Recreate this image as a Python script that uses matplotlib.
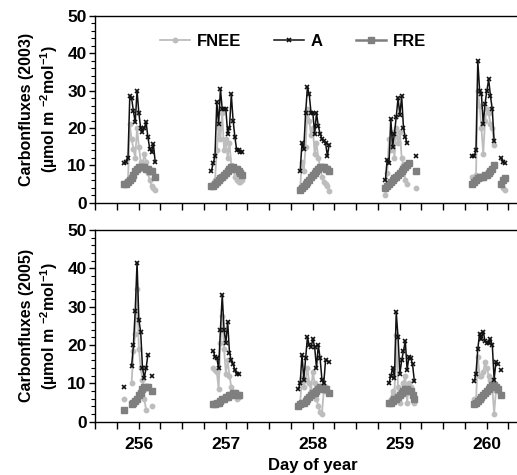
import numpy as np
import matplotlib
matplotlib.use("Agg")
import matplotlib.pyplot as plt
from matplotlib.ticker import MultipleLocator

plt.rcParams['font.family'] = ['Liberation Sans', 'DejaVu Sans']
plt.rcParams['font.weight'] = 'bold'
plt.rcParams['mathtext.fontset'] = 'custom'
plt.rcParams['mathtext.rm'] = 'Liberation Sans:bold'
plt.rcParams['mathtext.default'] = 'rm'

days = [256, 257, 258, 259, 260]
# half-hourly observation slots (local hour)
hours = [8.5 + 0.5 * i for i in range(20)]
N = None

# ---- 2003 ----
a_2003 = [
    [10.5, 11, 12, 28.5, 28, 24.5, 21.5, 30, 24, 20, 19, 20, 21.5, 17.5, 14.5, 13.5, 15.8, 11],
    [8.5, 10.5, 12.5, 27, 21, 30.5, 25, 25, 25, 18.5, 20, 29, 22, 17.5, 14, 14, 13.5, 13.5],
    [N, 8.5, 16, 14.5, 24, 31, 29, 24, 24, 18.5, 24, 20.5, 18.5, 17, 16.5, 16, 12.5, 15.5],
    [6, 11.5, 10.5, 22.5, 15, 18.5, 23, 28, 23.5, 28.5, 20, 17.5, 16, N, N, N, N, 12.5],
    [12.5, 12.5, 14, 38, 30, 29, 21, 26.5, 30, 33, 28.5, 25, 16.5, N, N, N, 12, 11, 10.5],
]
fnee_2003 = [
    [5, 5.5, 6, 21, 17, 14.5, 12, 20, 15, 11, 10, 13, 11, 8, 6, 4.5, 4, 3.5],
    [4.5, 5, 6, 14, 20, 17, 24, 14, 17, 12, 16, 10, 9, 7, 6, 5.5, 5.5, 6],
    [N, 4, 11, 8.5, 15, 25, 22, 18, 20, 13, 16, 12, 9.5, 7, 5.5, 5, 4.5, 3],
    [2, 8, 17, 14, 19, 12, 20, 16, 19, 12, 10, 6, 5, N, N, N, N, 4],
    [7, 7, 7.5, 30, 26, 20, 13, 22, 25, 24, 21, 20, 15.5, N, N, N, 5, 4, 3.5],
]
fre_2003 = [
    [5, 5, 5.5, 6, 6.5, 7.5, 8.5, 9, 9.5, 9.5, 9.5, 9.5, 9, 9, 8.5, 8.5, N, 7],
    [4.5, 4.5, 5, 5.5, 6, 6.5, 7, 7.5, 8, 8.5, 9, 9.5, 9.5, 9, 9, 8.5, 8, 7.5],
    [N, 3.5, 4, 4.5, 5, 5.5, 6, 7, 7.5, 8, 8.5, 9, 9.5, 9.5, 9.5, 9, 9, 8.5],
    [4, 4.5, 5, 5.5, 6, 6.5, 7, 7.5, 8, 8.5, 9, 9.5, 10, 10.5, N, N, N, 8.5],
    [5, 5.5, 6, 6.5, 7, 7, 7, 7.5, 7.5, 8, 8.5, 9, 10, N, N, N, 5, 6, 6.5],
]

# ---- 2005 ----
a_2005 = [
    [9, N, N, N, 14.5, 20, 29, 41.5, 26.5, 23.5, 14, 11.5, 14, 17.5, N, 12],
    [N, 18.5, 17, 16.5, 14, 24, 33, 24, 20.5, 26, 18, 16, 15, 13.5, 12.5, 12.5],
    [8.5, 10, 17.5, 11, 16.5, 22, 20, 19.5, 21.5, 19.5, 14, 20, 16.5, 11, 10, 16, N, 15.5],
    [N, N, 10, 12, 14, 11.5, 28.5, 22, 12.5, 16, 18.5, 21, 13.5, 17, 16.5, 15, 10.5],
    [N, 10.5, 12.5, 19, 23, 21.5, 23.5, 21, 20.5, 20.5, 21.5, 20, 11, 15.5, 15, N, 13.5],
]
fnee_2005 = [
    [6, N, N, N, 10, 18.5, 23, 34.5, 19, 14, 11, 6, 3, N, N, 4],
    [N, 14, 13.5, 13, 8.5, 20.5, 27.5, 19, 12.5, 16, 12, 9, 7.5, 7, 6, 6.5],
    [4, 5, 11.5, 9, 11, 14, 10, 8, 13, 10, 6, 4, 2.5, 2, 8, 9, N, 7.5],
    [N, N, 5, 6, 8, 7, 22.5, 9, 5, 8, 10, 12, 5, 10, 9, 7, 5],
    [N, 6, 5, 17, 12, 12, 13, 15.5, 14, 12, 11, 9, 2, 8, 8.5],
]
fre_2005 = [
    [3, N, N, N, 4.5, 5, 5.5, 6, 7, 7.5, 8.5, 9, 9, 9, N, 8],
    [N, 4.5, 4.5, 5, 5, 5.5, 6, 6, 6.5, 6.5, 7, 7, 7.5, 7.5, 7, 7],
    [4, 4.5, 5, 5, 5.5, 6, 6.5, 7, 7.5, 7.5, 8, 8.5, 9, 9, 8.5, 8.5, N, 7.5],
    [N, N, 5, 5, 5.5, 6, 6, 6.5, 7, 7.5, 8, 8.5, 8.5, 8, 8, 7, 6],
    [N, 4.5, 5, 5.5, 6, 6.5, 7, 7.5, 8, 8.5, 9, 9.5, 9.5, 9, 8.5, N, 7],
]

W, H = 517, 475
fig = plt.figure(figsize=(W / 100, H / 100), dpi=100)

left = 95 / W
width = 435 / W
ax1 = fig.add_axes([left, 1 - 202.7 / H, width, 186.7 / H])
ax2 = fig.add_axes([left, 1 - 421.7 / H, width, 191.7 / H])

c_fnee = '#bdbdbd'
c_a = '#111111'
c_fre = '#7f7f7f'


def series(day, vals):
    x = []
    y = []
    for h, v in zip(hours, vals):
        x.append(day + (h - 12.4) / 24.0)
        y.append(np.nan if v is None else v)
    return np.array(x), np.array(y)


def draw(ax, fnee, a, fre):
    for i, d in enumerate(days):
        x, y = series(d, fnee[i])
        ax.plot(x, y, color=c_fnee, lw=1.3, marker='o', ms=3.2, mec=c_fnee,
                label='FNEE' if i == 0 else None, zorder=2)
        x, y = series(d, fre[i])
        ax.plot(x, y, color=c_fre, lw=1.8, marker='s', ms=3.8, mec=c_fre,
                label='FRE' if i == 0 else None, zorder=3)
        x, y = series(d, a[i])
        ax.plot(x, y, color=c_a, lw=1.1, marker='x', ms=3.2, mew=1.2,
                label='A' if i == 0 else None, zorder=4)
    ax.set_xlim(255.5, 260.5)
    ax.set_ylim(0, 50)
    ax.yaxis.set_major_locator(MultipleLocator(10))
    ax.yaxis.set_minor_locator(MultipleLocator(2))
    ax.spines['right'].set_visible(False)
    for s in ['left', 'bottom', 'top']:
        ax.spines[s].set_linewidth(1.0)
    ax.tick_params(axis='y', which='major', direction='out', length=4, width=1,
                   labelsize=12.5, pad=2)
    ax.tick_params(axis='y', which='minor', direction='out', length=3, width=0.8)
    ax.tick_params(axis='x', which='major', direction='out', length=5, width=1,
                   labelsize=12.5, pad=6)
    for lab in ax.get_yticklabels():
        lab.set_fontweight('bold')


draw(ax1, fnee_2003, a_2003, fre_2003)
draw(ax2, fnee_2005, a_2005, fre_2005)

ticks = np.arange(255.5, 260.51, 0.25)
ax1.set_xticks(ticks)
ax1.set_xticklabels([])
ax2.set_xticks(ticks)
ax2.set_xticklabels([str(int(t)) if abs(t - round(t)) < 1e-6 else '' for t in ticks],
                    fontweight='bold')
ax2.set_xlabel('Day of year', fontsize=12, fontweight='bold', labelpad=4)

ax1.set_ylabel('Carbonfluxes (2003)\n(µmol m $^{-2}$mol$^{-1}$)', fontsize=11.5,
               fontweight='bold', labelpad=5, linespacing=1.3)
ax2.set_ylabel('Carbonfluxes (2005)\n(µmol m $^{-2}$mol$^{-1}$)', fontsize=11.5,
               fontweight='bold', labelpad=5, linespacing=1.3)

handles, labels = ax1.get_legend_handles_labels()
order = [labels.index('FNEE'), labels.index('A'), labels.index('FRE')]
leg = ax1.legend([handles[k] for k in order], [labels[k] for k in order],
                 loc='upper center', bbox_to_anchor=(0.455, 0.985), ncol=3,
                 frameon=False, handlelength=1.8, columnspacing=2.0,
                 handletextpad=0.4, prop={'weight': 'bold', 'size': 12})

fig.savefig('out.png', dpi=100)
